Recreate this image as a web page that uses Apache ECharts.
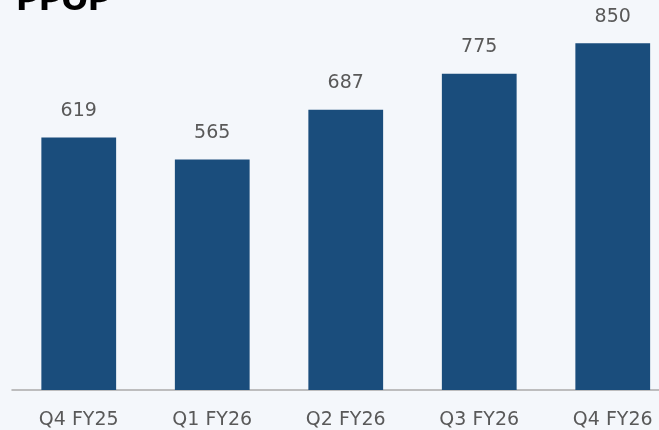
<!DOCTYPE html>
<html><head><meta charset="utf-8">
<script src="https://cdn.jsdelivr.net/npm/echarts@6/dist/echarts.min.js"></script>
<style>html,body{margin:0;padding:0;background:#f4f7fb;overflow:hidden;width:659px;height:430px}#c{width:680px;height:448px;position:absolute;left:0;top:-18px}</style>
</head><body><div id="c"></div>
<script>
const categories = ["Q4 FY25","Q1 FY26","Q2 FY26","Q3 FY26","Q4 FY26"];
const ppop = [619,565,687,775,850];
const title = "PPOP";
const chart = echarts.init(document.getElementById('c'));
const F = '"DejaVu Sans", sans-serif';
chart.setOption({
  backgroundColor:'#f4f7fb',
  animation:false,
  graphic:[{type:'text',left:16,top:4,style:{text:title,font:'bold 31px "DejaVu Sans", sans-serif',fill:'#000'}}],
  grid:{left:12,right:0.5,top:0,bottom:40,containLabel:false},
  xAxis:{type:'category',data:categories,
    axisLine:{lineStyle:{color:'#aaaaaa',width:1.5}},axisTick:{show:false},
    axisLabel:{color:'#595959',fontSize:19,fontFamily:F,margin:21}},
  yAxis:{type:'value',min:0,max:1000,show:false,splitLine:{show:false}},
  series:[{type:'bar',data:ppop,barWidth:'56%',itemStyle:{color:'#1a4d7c'},
    label:{show:true,position:'top',distance:17,color:'#595959',fontSize:19,fontFamily:F}}]
});
</script></body></html>
